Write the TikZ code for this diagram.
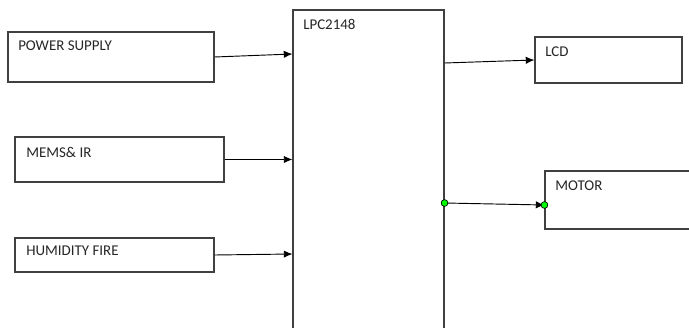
\documentclass[tikz,border=0pt]{standalone}
\usepackage{fontspec}
\setmainfont{Carlito}
\usetikzlibrary{positioning,arrows.meta}
\definecolor{boxgray}{HTML}{404040}
\definecolor{txtdark}{HTML}{262626}
\definecolor{dotgreen}{HTML}{00FF00}

\begin{document}
\begin{tikzpicture}[x=0.75pt, y=-0.75pt,
      blk/.style={rectangle, draw=boxgray, line width=0.8pt, fill=white, inner sep=0pt},
      blktext/.style={anchor=north west, inner sep=0pt, font=\fontsize{11.2}{13}\selectfont, text=txtdark},
      arr/.style={-{Latex[length=6.5pt,width=5.5pt]}, line width=0.7pt, color=black},
      pin/.style={circle, draw=black, line width=0.4pt, fill=dotgreen, minimum size=5pt, inner sep=0pt}
    ]
      \useasboundingbox (0,0) rectangle (689,328);
      % input blocks
      \node[blk, minimum width=154.5pt, minimum height=37.5pt] (psu) at (111,57) {};
      \node[blk, minimum width=156.75pt, minimum height=33.75pt] (mems) at (119.5,159.5) {};
      \node[blk, minimum width=149.25pt, minimum height=25.5pt] (hum) at (114.5,255) {};
      % controller
      \node[blk, minimum width=113.25pt, minimum height=251.25pt] (lpc) at (368.5,177.5) {};
      % output blocks
      \node[blk, minimum width=110.25pt, minimum height=34.5pt] (lcd) at (608.5,60) {};
      \node[blk, minimum width=120pt, minimum height=43.5pt] (motor) at (625,200) {};
      % labels
      \node[blktext] (psutxt) at (18,41) {POWER SUPPLY};
      \node[blktext] (memstxt) at (26,147) {MEMS\& IR};
      \node[blktext] (humtxt) at (26,246) {HUMIDITY FIRE};
      \node[blktext] (lpctxt) at (303,19) {LPC2148};
      \node[blktext] (lcdtxt) at (545,47) {LCD};
      \node[blktext] (motortxt) at (555,181) {MOTOR};
      % links
      \draw[arr] (psu.east) -- (lpc.west |- 0,54);
      \draw[arr] (mems.east) -- (lpc.west |- mems.east);
      \draw[arr] (hum.east) -- (lpc.west |- 0,254);
      \draw[arr] (lpc.east |- 0,63) -- (lcd.west);
      \node[pin] (p1) at (lpc.east |- 0,203) {};
      \node[pin] (p2) at (motor.west |- 0,205) {};
      \draw[arr] (p1.center) -- (p2.center);
      \node[pin] at (p1) {};
      \node[pin] at (p2) {};
    \end{tikzpicture}
\end{document}
